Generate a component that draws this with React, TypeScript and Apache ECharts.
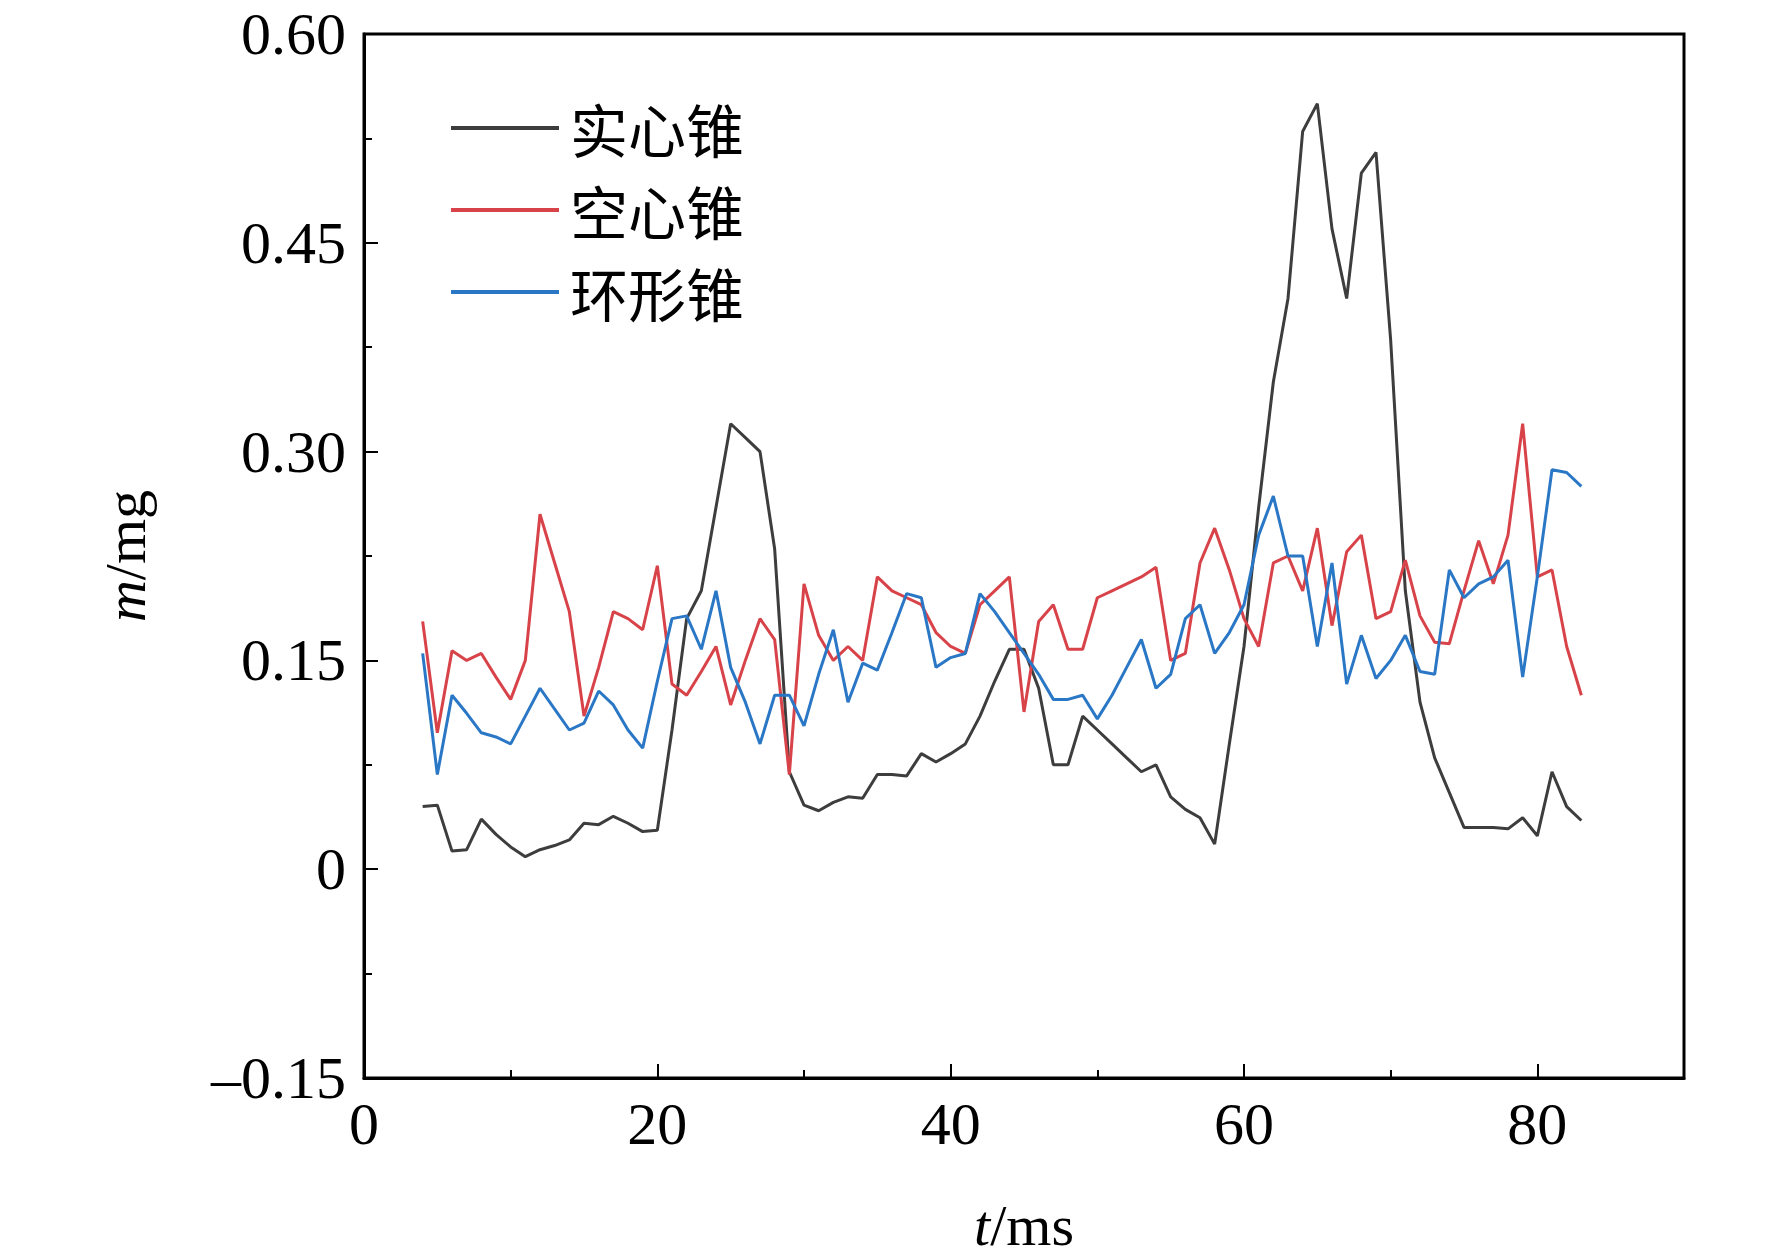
import React, { useEffect, useRef } from 'react';
import * as echarts from 'echarts';

const times: number[] = [];
for (let t = 4; t <= 83; t++) times.push(t);

const solidCone = [
  0.045, 0.046, 0.013, 0.014, 0.036, 0.025, 0.016, 0.009, 0.014, 0.017,
  0.021, 0.033, 0.032, 0.038, 0.033, 0.027, 0.028, 0.10, 0.18, 0.20,
  0.26, 0.32, 0.31, 0.30, 0.23, 0.07, 0.046, 0.042, 0.048, 0.052,
  0.051, 0.068, 0.068, 0.067, 0.083, 0.077, 0.083, 0.09, 0.11, 0.135,
  0.158, 0.158, 0.13, 0.075, 0.075, 0.11, 0.10, 0.09, 0.08, 0.07,
  0.075, 0.052, 0.043, 0.037, 0.018, 0.09, 0.16, 0.26, 0.35, 0.41,
  0.53, 0.55, 0.46, 0.41, 0.50, 0.515, 0.38, 0.20, 0.12, 0.08,
  0.055, 0.03, 0.03, 0.03, 0.029, 0.037, 0.024, 0.07, 0.045, 0.035,
];

const hollowCone = [
  0.178, 0.098, 0.157, 0.15, 0.155, 0.138, 0.122, 0.15, 0.255, 0.22,
  0.185, 0.11, 0.145, 0.185, 0.18, 0.172, 0.218, 0.133, 0.125, 0.142,
  0.16, 0.118, 0.15, 0.18, 0.165, 0.068, 0.205, 0.168, 0.15, 0.16,
  0.15, 0.21, 0.2, 0.195, 0.19, 0.17, 0.16, 0.155, 0.19, 0.2,
  0.21, 0.113, 0.178, 0.19, 0.158, 0.158, 0.195, 0.2, 0.205, 0.21,
  0.217, 0.15, 0.155, 0.22, 0.245, 0.215, 0.18, 0.16, 0.22, 0.225,
  0.2, 0.245, 0.175, 0.228, 0.24, 0.18, 0.185, 0.222, 0.182, 0.163,
  0.162, 0.2, 0.236, 0.205, 0.24, 0.32, 0.21, 0.215, 0.16, 0.125,
];

const ringCone = [
  0.155, 0.068, 0.125, 0.112, 0.098, 0.095, 0.09, 0.11, 0.13, 0.115,
  0.1, 0.105, 0.128, 0.118, 0.1, 0.087, 0.135, 0.18, 0.182, 0.158,
  0.2, 0.145, 0.12, 0.09, 0.125, 0.125, 0.103, 0.14, 0.172, 0.12,
  0.148, 0.143, 0.17, 0.198, 0.195, 0.145, 0.152, 0.155, 0.198, 0.185,
  0.17, 0.155, 0.14, 0.122, 0.122, 0.125, 0.108, 0.125, 0.145, 0.165,
  0.13, 0.14, 0.18, 0.19, 0.155, 0.17, 0.19, 0.24, 0.268, 0.225,
  0.225, 0.16, 0.22, 0.133, 0.168, 0.137, 0.15, 0.168, 0.142, 0.14,
  0.215, 0.195, 0.205, 0.21, 0.222, 0.138, 0.21, 0.287, 0.285, 0.275,
];

const seriesNames = ['实心锥', '空心锥', '环形锥'];
const seriesColors = ['#3d3d3d', '#d8434a', '#2a77c6'];
const seriesData = [solidCone, hollowCone, ringCone];

const FONT = '"Liberation Serif", "Times New Roman", serif';

const App: React.FC = () => {
  const chartRef = useRef<HTMLDivElement>(null);

  useEffect(() => {
    if (!chartRef.current) return;
    const chart = echarts.init(chartRef.current, undefined, { renderer: 'svg' });

    const axisCommon = {
      axisLine: { show: true, onZero: false, lineStyle: { color: '#000', width: 3 } },
      axisTick: { show: true, inside: true, length: 14, lineStyle: { color: '#000', width: 2 } },
      minorTick: { show: true, splitNumber: 2, length: 8, lineStyle: { color: '#000', width: 2 } },
      splitLine: { show: false },
      axisLabel: { color: '#000', fontSize: 60, fontFamily: FONT },
    };

    chart.setOption({
      animation: false,
      grid: {
        left: 364, top: 34, right: 88, bottom: 163,
        show: true, borderColor: '#000', borderWidth: 3,
      },
      legend: {
        orient: 'vertical',
        left: 446,
        top: 92,
        itemWidth: 108,
        itemHeight: 4,
        itemGap: 20,
        icon: 'rect',
        textStyle: {
          fontSize: 58, lineHeight: 62, color: '#000',
          fontFamily: '"Noto Sans CJK SC", serif', padding: [0, 0, 0, 6],
        },
        data: seriesNames,
      },
      xAxis: {
        type: 'value',
        min: 0,
        max: 90,
        interval: 20,
        ...axisCommon,
        axisLabel: {
          ...axisCommon.axisLabel,
          margin: 16,
          formatter: (v: number) => (v % 20 === 0 ? String(v) : ''),
        },
        name: '{i|t}/ms',
        nameLocation: 'middle',
        nameGap: 118,
        nameTextStyle: {
          fontSize: 58, color: '#000', fontFamily: FONT,
          rich: { i: { fontStyle: 'italic', fontSize: 58, fontFamily: FONT } },
        },
      },
      yAxis: {
        type: 'value',
        min: -0.15,
        max: 0.6,
        interval: 0.15,
        ...axisCommon,
        axisLabel: {
          ...axisCommon.axisLabel,
          margin: 18,
          formatter: (v: number) => {
            if (Math.abs(v) < 1e-9) return '0';
            return v < 0 ? '\u2013' + Math.abs(v).toFixed(2) : v.toFixed(2);
          },
        },
        name: '{i|m}/mg',
        nameLocation: 'middle',
        nameGap: 210,
        nameTextStyle: {
          fontSize: 58, color: '#000', fontFamily: FONT,
          rich: { i: { fontStyle: 'italic', fontSize: 58, fontFamily: FONT } },
        },
      },
      series: seriesNames.map((name, i) => ({
        name,
        type: 'line',
        showSymbol: false,
        symbol: 'none',
        color: seriesColors[i],
        lineStyle: { width: 3, color: seriesColors[i] },
        data: times.map((t, j) => [t, seriesData[i][j]]),
      })),
    });

    return () => {
      chart.dispose();
    };
  }, []);

  return (
    <div
      ref={chartRef}
      style={{ position: 'fixed', left: 0, top: 0, width: 1772, height: 1259, background: '#fff' }}
    />
  );
};

export default App;
